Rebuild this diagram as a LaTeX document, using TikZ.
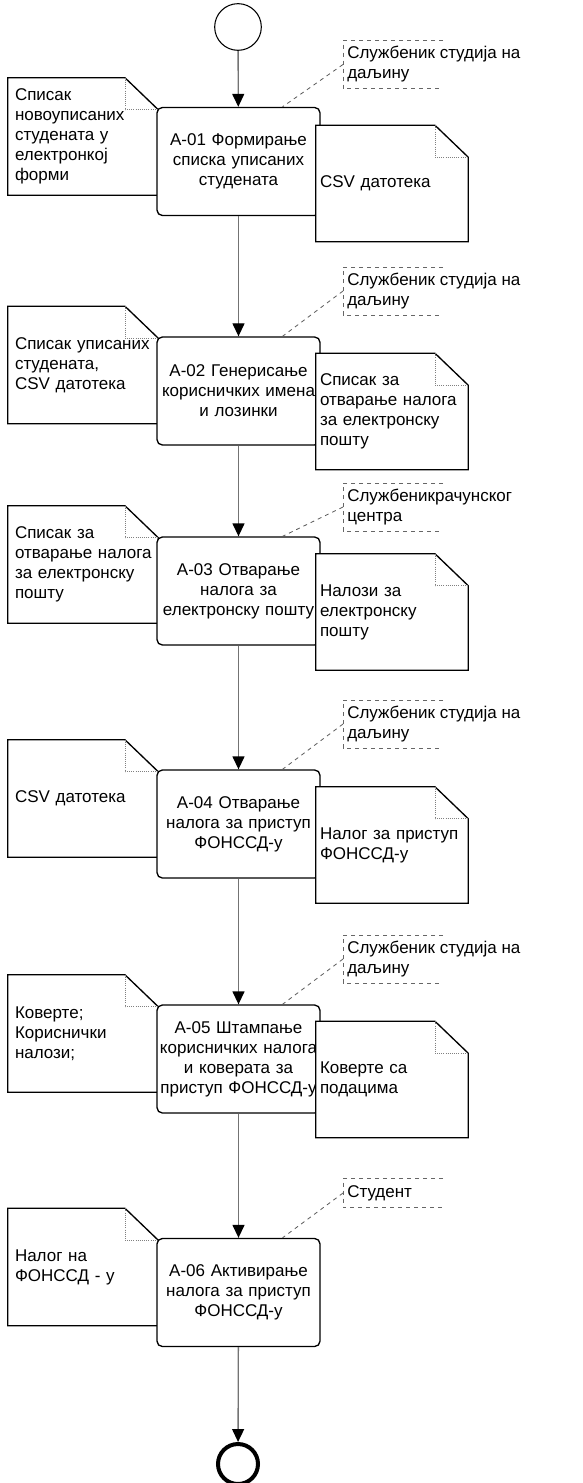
\documentclass[tikz,border=0pt]{standalone}
\usepackage{fontspec}
\setmainfont{Liberation Sans}
\usetikzlibrary{arrows.meta}

% outline of a document with a folded corner
\newcommand{\docoutline}[1]{%
  \draw[docline] (#1.south west) -- (#1.north west) -- ([xshift=-25pt]#1.north east)
    -- ([yshift=-24pt]#1.north east) -- (#1.south east) -- cycle;
  \draw[foldline] ([xshift=-25pt]#1.north east) |- ([yshift=-24pt]#1.north east);
}
% open dashed bracket of a performer
\newcommand{\rolebracket}[1]{%
  \draw[bracketline] ([xshift=75pt]#1.north west) -- (#1.north west)
    -- (#1.south west) -- ([xshift=75pt]#1.south west);
}

\begin{document}
\begin{tikzpicture}[
        x=0.75pt, y=-0.75pt,
        font=\fontsize{12.75pt}{15pt}\selectfont,
        every node/.style={},
        task/.style={draw, fill=white, rounded corners=4pt, line width=1pt,
          inner sep=0pt, text width=122.25pt, minimum height=81pt, align=center},
        docl/.style={fill=white, inner xsep=5.25pt, inner ysep=0pt,
          text width=102pt, minimum height=87.75pt, align=left},
        docr/.style={fill=white, inner xsep=3pt, inner ysep=0pt,
          text width=108pt, minimum height=87pt, align=left},
        docline/.style={line width=1pt, line join=miter},
        foldline/.style={densely dotted, gray, line width=0.6pt},
        role/.style={anchor=west, align=left, inner xsep=3pt, inner ysep=0pt,
          minimum height=35.5pt},
        bracketline/.style={dashed, gray!80!black, line width=0.6pt},
        note/.style={dashed, gray!70!black, line width=0.6pt},
        flow/.style={draw=gray!90!black, line width=1pt,
          -{Triangle[length=9.75pt, width=9pt, color=black]}}
        ]
        \useasboundingbox (0,0) rectangle (582,1483);

        % start and end
        \node[draw, circle, line width=0.8pt, minimum size=35pt, inner sep=0pt] (start) at (238,27) {};
        \node[draw, circle, line width=3pt, minimum size=30pt, inner sep=0pt] (end) at (238,1464) {};

        % input documents
        \node[docl] (l1) at (83,136.5) {Списак\\новоуписаних\\студената у\\електронкој\\форми};
        \node[docl] (l2) at (83,365) {\mbox{Списак уписаних}\\студената,\\CSV датотека};
        \node[docl] (l3) at (83,564.5) {Списак за\\\mbox{отварање налога}\\\mbox{за електронску}\\пошту};
        \node[docl] (l4) at (83,798.5) {CSV датотека};
        \node[docl] (l5) at (83,1033.5) {Коверте;\\Кориснички\\налози;};
        \node[docl] (l6) at (83,1267) {Налог на\\ФОНССД - у};
        \foreach \d in {l1,l2,l3,l4,l5,l6} {\docoutline{\d}}

        % tasks
        \node[task] (t1) at (238.5,161.5) {А-01 Формирање\\списка уписаних\\студената};
        \node[task] (t2) at (238.5,391) {А-02 Генерисање\\\mbox{корисничких имена}\\и лозинки};
        \node[task] (t3) at (238.5,591) {А-03 Отварање\\налога за\\\mbox{електронску пошту}};
        \node[task] (t4) at (238.5,824) {А-04 Отварање\\\mbox{налога за приступ}\\ФОНССД-у};
        \node[task] (t5) at (238.5,1059) {А-05 Штампање\\\mbox{корисничких налога}\\и коверата за\\\mbox{приступ ФОНССД-у}};
        \node[task] (t6) at (238.5,1292.5) {А-06 Активирање\\\mbox{налога за приступ}\\ФОНССД-у};

        % output documents
        \node[docr] (r1) at (392,183.5) {CSV датотека};
        \node[docr] (r2) at (392,411.5) {Списак за\\\mbox{отварање налога}\\\mbox{за електронску}\\пошту};
        \node[docr] (r3) at (392,612) {Налози за\\електронску\\пошту};
        \node[docr] (r4) at (392,845) {\mbox{Налог за приступ}\\ФОНССД-у};
        \node[docr] (r5) at (392,1079.5) {Коверте са\\подацима};
        \foreach \d in {r1,r2,r3,r4,r5} {\docoutline{\d}}

        % performers
        \node[role] (p1) at (343,64.5) {Службеник студија на\\даљину};
        \node[role] (p2) at (343,291) {Службеник студија на\\даљину};
        \node[role] (p3) at (343,507) {Службеникрачунског\\центра};
        \node[role] (p4) at (343,724) {Службеник студија на\\даљину};
        \node[role] (p5) at (343,959) {Службеник студија на\\даљину};
        \node[role, minimum height=21pt] (p6) at (343,1193) {Студент};
        \foreach \p in {p1,p2,p3,p4,p5,p6} {\rolebracket{\p}}

        % edges
        \draw[flow] (start) -- (t1);
        \draw[flow] (t1) -- (t2);
        \draw[flow] (t2) -- (t3);
        \draw[flow] (t3) -- (t4);
        \draw[flow] (t4) -- (t5);
        \draw[flow] (t5) -- (t6);
        \draw[flow] (t6) -- (end);

        \foreach \i in {1,...,6}
          \draw[note] (p\i.west) -- ([xshift=33pt]t\i.north);

    \end{tikzpicture}
\end{document}
